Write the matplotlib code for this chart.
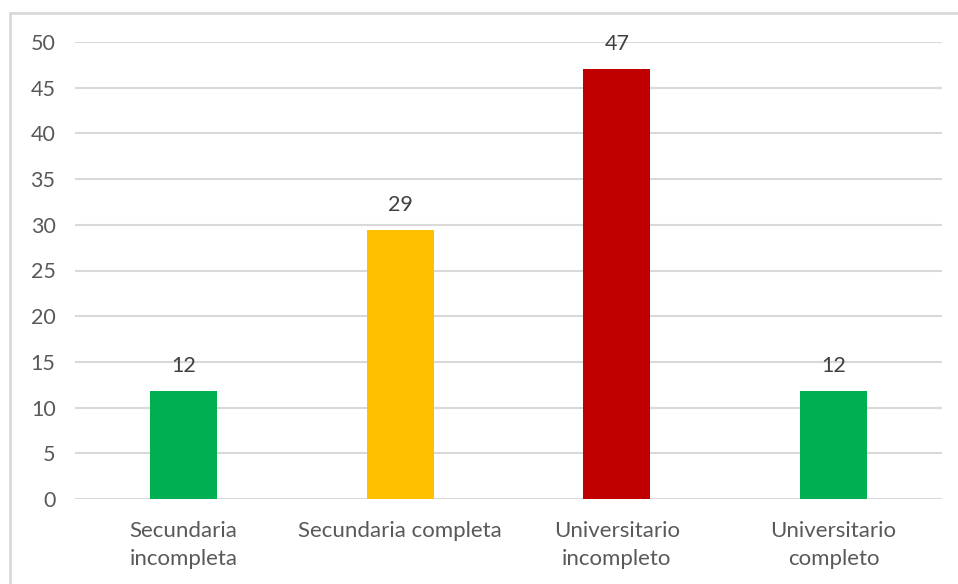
import matplotlib
matplotlib.use("Agg")
import matplotlib.pyplot as plt
from matplotlib.patches import Rectangle

categories = ["Secundaria\nincompleta", "Secundaria completa", "Universitario\nincompleto", "Universitario\ncompleto"]
values = [11.8, 29.4, 47.0, 11.8]
labels = ["12", "29", "47", "12"]
colors = ["#00B050", "#FFC000", "#C00000", "#00B050"]
yticks = [0, 5, 10, 15, 20, 25, 30, 35, 40, 45, 50]

plt.rcParams['font.family'] = ['Lato', 'DejaVu Sans']
W, H = 958, 584
fig = plt.figure(figsize=(W/100, H/100), dpi=100)
fig.patches.append(Rectangle((10/W, -0.1), 1.0, (H-13)/H + 0.1, transform=fig.transFigure,
                             fill=False, edgecolor="#d9d9d9", linewidth=2.0, clip_on=False))
ax = fig.add_axes([75/W, (H-499)/H, (942-75)/W, (499-42)/H])
x = list(range(len(categories)))
ax.bar(x, values, width=0.31, color=colors, zorder=3)
for xi, v, l in zip(x, values, labels):
    ax.annotate(l, (xi, v), xytext=(0, 11), textcoords="offset points", ha="center",
                va="bottom", fontsize=15.5, color="#404040")
ax.set_xlim(-0.5, 3.5)
ax.set_ylim(0, 50)
ax.set_yticks(yticks)
ax.set_xticks(x)
ax.set_xticklabels(categories, fontsize=16, color="#595959", linespacing=1.5)
ax.tick_params(axis="y", labelsize=15.5, labelcolor="#595959", length=0, pad=14)
ax.tick_params(axis="x", length=0, pad=16)
ax.grid(axis="y", color="#d9d9d9", linewidth=1.5, zorder=0)
for s in ax.spines.values():
    s.set_visible(False)
fig.savefig("out.png", dpi=100)
